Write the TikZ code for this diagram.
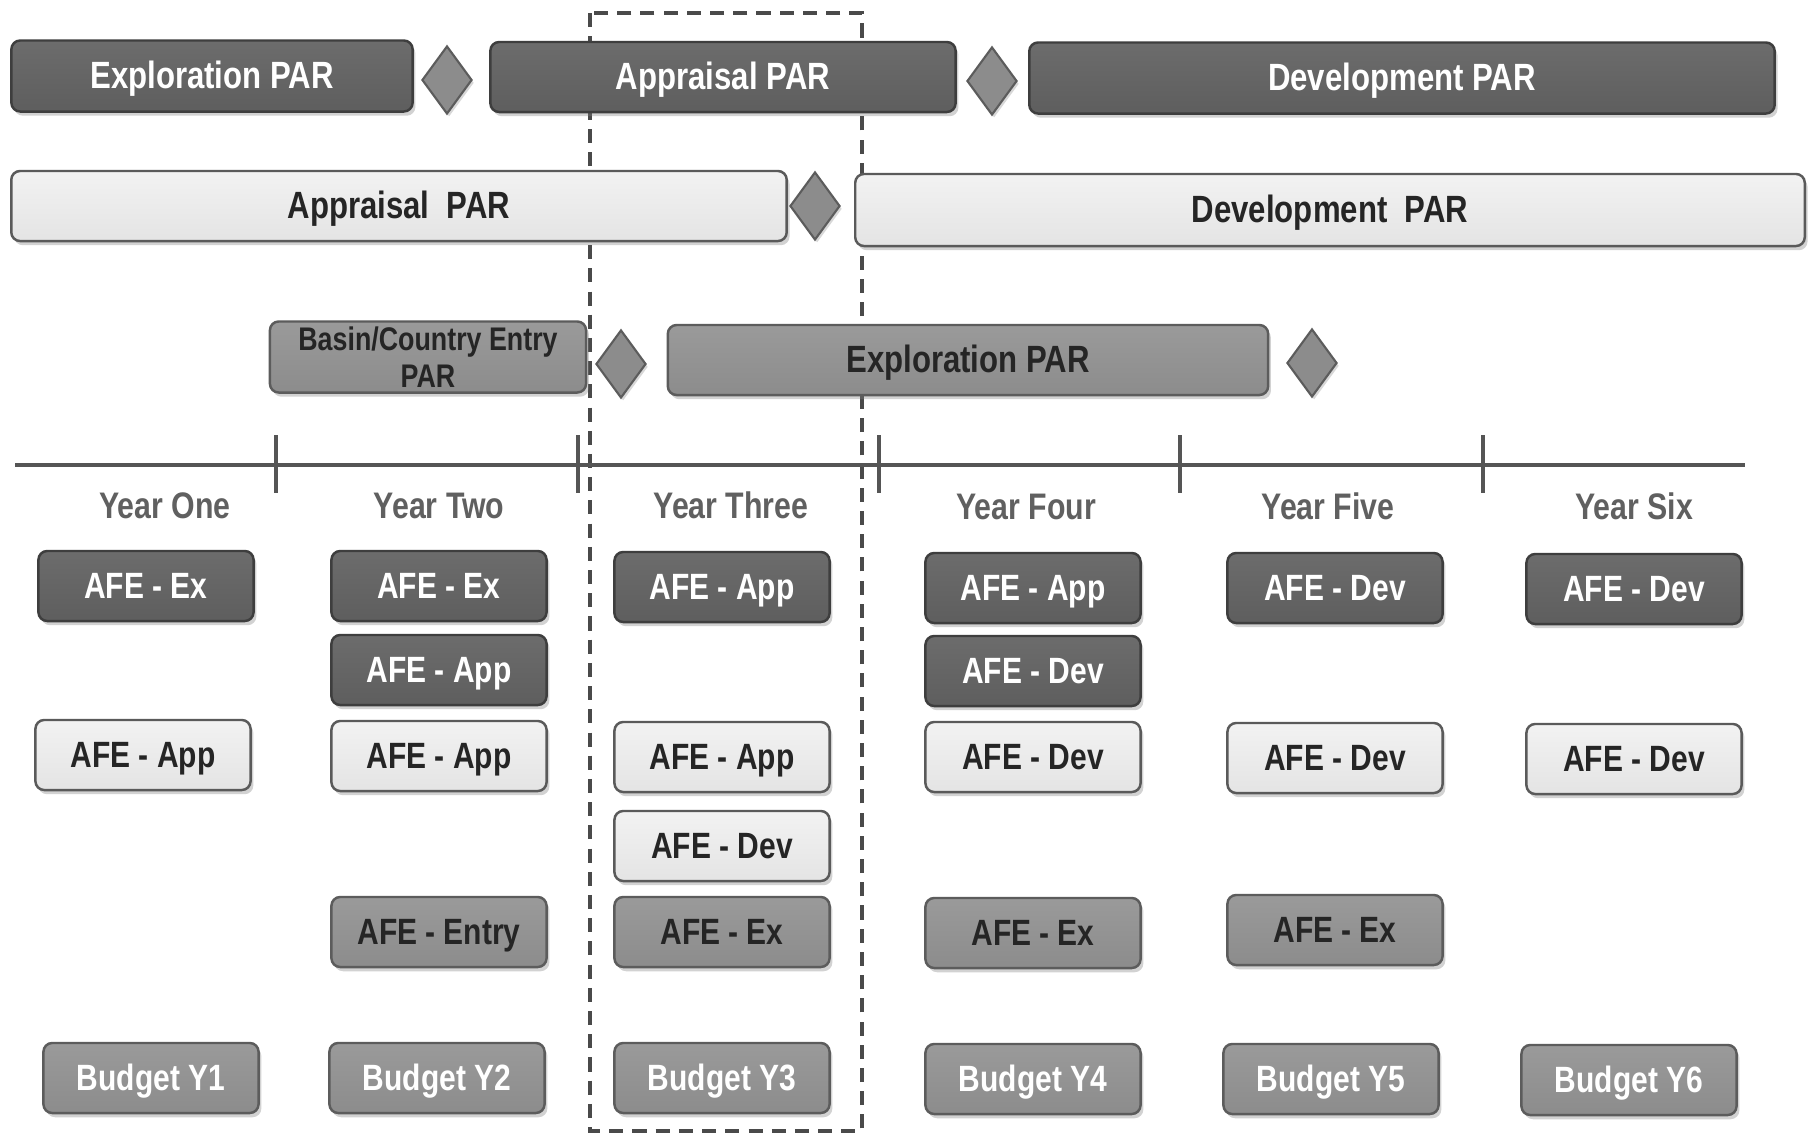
\documentclass[tikz,border=0pt]{standalone}
\usepackage{fontspec}
\setmainfont{Liberation Sans}[FakeStretch=0.82]
\usetikzlibrary{shapes.geometric,shadows}
\definecolor{darkfill}{HTML}{5E5E5E}
\definecolor{darktop}{HTML}{6C6C6C}
\definecolor{darkedge}{HTML}{3E3E3E}
\definecolor{lightfill}{HTML}{E4E4E4}
\definecolor{lighttop}{HTML}{F2F2F2}
\definecolor{lightedge}{HTML}{5A5A5A}
\definecolor{medfill}{HTML}{8C8C8C}
\definecolor{medtop}{HTML}{9A9A9A}
\definecolor{mededge}{HTML}{5C5C5C}
\definecolor{inkdark}{HTML}{252525}
\definecolor{yeargray}{HTML}{606060}
\definecolor{linegray}{HTML}{555555}
\definecolor{dashgray}{HTML}{4A4A4A}
\tikzset{
  basebox/.style={rectangle, rounded corners=2.5pt, line width=0.7pt, inner sep=0pt,
    align=center, font=\fontsize{10.4}{11}\selectfont\bfseries,
    drop shadow={shadow xshift=0.8pt, shadow yshift=-1.2pt, opacity=0.35}},
  oneline/.style={text height=0.72em, text depth=0pt},
  darkbox/.style={basebox, draw=darkedge, top color=darktop, bottom color=darkfill, text=white},
  lightbox/.style={basebox, draw=lightedge, top color=lighttop, bottom color=lightfill, text=inkdark},
  medbox/.style={basebox, draw=mededge, top color=medtop, bottom color=medfill, text=inkdark},
  budgetbox/.style={medbox, text=white},
  parfont/.style={font=\fontsize{10.8}{10.5}\selectfont\bfseries},
  small/.style={oneline, minimum width=2.15cm, minimum height=0.70cm},
  milestone/.style={diamond, draw=mededge, line width=0.6pt, fill=medfill, inner sep=0pt,
    minimum width=0.50cm, minimum height=0.68cm,
    drop shadow={shadow xshift=0.6pt, shadow yshift=-0.8pt, opacity=0.3}},
  yearlabel/.style={text=yeargray, font=\fontsize{10.5}{11}\selectfont\bfseries, oneline},
  tick/.style={draw=linegray, line width=0.9pt},
}
\begin{document}
\begin{tikzpicture}[x=0.01cm, y=-0.01cm]
\useasboundingbox[fill=white] (0,0) rectangle (1811,1133);

% dashed focus frame
\draw[dashgray, line width=1pt, dash pattern=on 4pt off 2.6pt] (590,13) rectangle (862,1131);

% row 1 (dark PARs)
\node[darkbox, parfont, oneline, minimum width=4.01cm, minimum height=0.71cm] (exp1) at (212,76) {Exploration PAR};
\node[milestone] (m1) at (447,80) {};
\node[darkbox, parfont, oneline, minimum width=4.65cm, minimum height=0.70cm] (app1) at (723,77) {Appraisal PAR};
\node[milestone] (m2) at (992,81) {};
\node[darkbox, parfont, oneline, minimum width=7.45cm, minimum height=0.71cm] (dev1) at (1402,78) {Development PAR};

% row 2 (light PARs)
\node[lightbox, parfont, oneline, minimum width=7.75cm, minimum height=0.70cm] (app2) at (399,206) {Appraisal\ \ PAR};
\node[milestone] (m3) at (815,206) {};
\node[lightbox, parfont, oneline, minimum width=9.49cm, minimum height=0.72cm] (dev2) at (1330,210) {Development\ \ PAR};

% row 3 (medium PARs)
\node[medbox, font=\fontsize{9.3}{10.6}\selectfont\bfseries, minimum width=3.16cm, minimum height=0.71cm] (basin) at (428,357) {Basin/Country Entry\\PAR};
\node[milestone] (m4) at (621,364) {};
\node[medbox, parfont, oneline, minimum width=6.00cm, minimum height=0.70cm] (exp3) at (968,360) {Exploration PAR};
\node[milestone] (m5) at (1312,363) {};

% timeline
\coordinate (tl0) at (15,465);
\coordinate (tl1) at (1745,465);
\draw[linegray, line width=1.1pt] (tl0) -- (tl1);
\foreach \t/\x in {a/276,b/578,c/879,d/1180,e/1483}{
  \coordinate (t\t top) at (\x,435);
  \coordinate (t\t bot) at (\x,493);
  \draw[tick] (t\t top) -- (t\t bot);
}

% year labels
\node[yearlabel] (y1) at (165,506) {Year One};
\node[yearlabel] (y2) at (439,506) {Year Two};
\node[yearlabel] (y3) at (731,506) {Year Three};
\node[yearlabel] (y4) at (1026,507) {Year Four};
\node[yearlabel] (y5) at (1328,507) {Year Five};
\node[yearlabel] (y6) at (1634,507) {Year Six};

% row A (dark)
\node[darkbox, small] (a1) at (146,586) {AFE - Ex};
\node[darkbox, small] (a2) at (439,586) {AFE - Ex};
\node[darkbox, small] (a3) at (722,587) {AFE - App};
\node[darkbox, small] (a4) at (1033,588) {AFE - App};
\node[darkbox, small] (a5) at (1335,588) {AFE - Dev};
\node[darkbox, small] (a6) at (1634,589) {AFE - Dev};

% row B (dark)
\node[darkbox, small] (b2) at (439,670) {AFE - App};
\node[darkbox, small] (b4) at (1033,671) {AFE - Dev};

% row C (light)
\node[lightbox, small] (c1) at (143,755) {AFE - App};
\node[lightbox, small] (c2) at (439,756) {AFE - App};
\node[lightbox, small] (c3) at (722,757) {AFE - App};
\node[lightbox, small] (c4) at (1033,757) {AFE - Dev};
\node[lightbox, small] (c5) at (1335,758) {AFE - Dev};
\node[lightbox, small] (c6) at (1634,759) {AFE - Dev};

% row D (light)
\node[lightbox, small] (d3) at (722,846) {AFE - Dev};

% row E (medium)
\node[medbox, small] (e2) at (439,932) {AFE - Entry};
\node[medbox, small] (e3) at (722,932) {AFE - Ex};
\node[medbox, small] (e4) at (1033,933) {AFE - Ex};
\node[medbox, small] (e5) at (1335,930) {AFE - Ex};

% row F (budgets)
\node[budgetbox, small] (f1) at (151,1078) {Budget Y1};
\node[budgetbox, small] (f2) at (437,1078) {Budget Y2};
\node[budgetbox, small] (f3) at (722,1078) {Budget Y3};
\node[budgetbox, small] (f4) at (1033,1079) {Budget Y4};
\node[budgetbox, small] (f5) at (1331,1079) {Budget Y5};
\node[budgetbox, small] (f6) at (1629,1080) {Budget Y6};
\end{tikzpicture}
\end{document}
